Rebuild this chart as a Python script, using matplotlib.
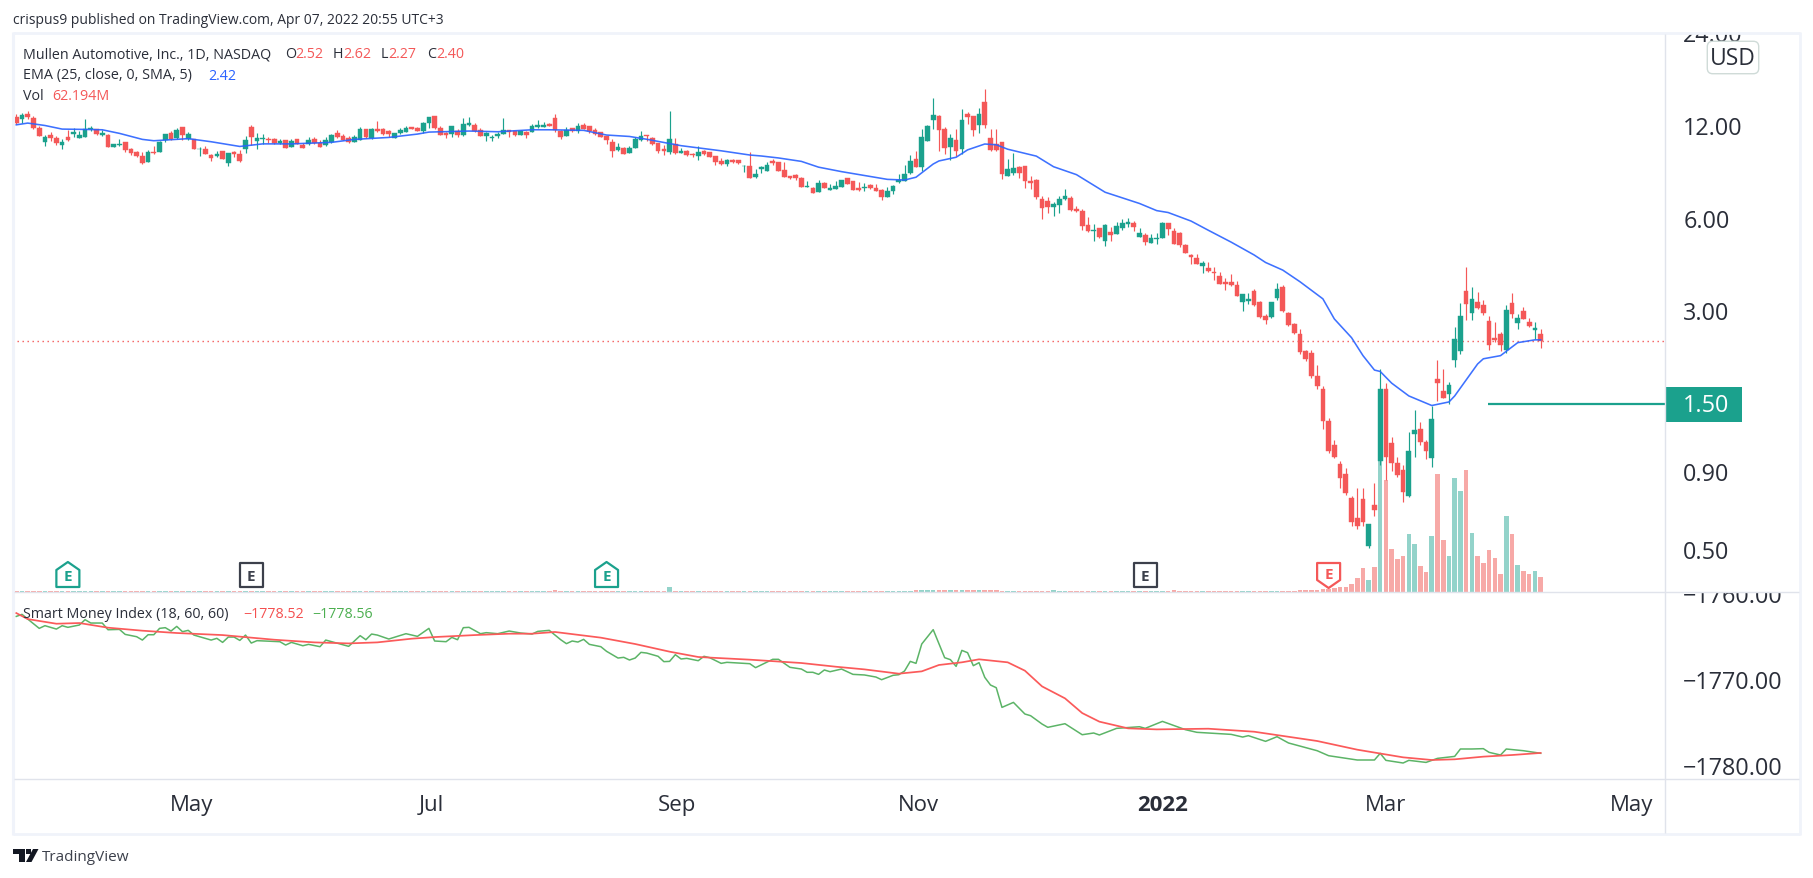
import numpy as np
import matplotlib
matplotlib.use("Agg")
import matplotlib.pyplot as plt
from matplotlib.lines import Line2D
from matplotlib.patches import Polygon, Rectangle, FancyBboxPatch
from matplotlib.transforms import offset_copy

plt.rcParams['font.family'] = ['Open Sans', 'DejaVu Sans']

W, H = 1813, 879

opens = [12.84,12.65,13.13,12.74,11.82,10.65,11.22,10.97,10.41,11.05,
    11.30,10.97,11.05,11.73,11.73,11.22,11.22,10.26,10.41,10.65,
    10.10,9.88,9.59,9.17,9.88,9.88,10.81,11.39,10.97,11.91,
    10.89,10.89,10.08,10.10,9.66,9.59,9.95,9.10,9.88,9.73,
    10.10,11.91,10.72,10.89,10.89,10.89,10.57,10.81,10.26,10.89,
    10.41,10.49,10.89,10.57,10.41,10.65,11.39,11.13,10.97,10.65,
    10.81,11.73,10.97,11.73,11.73,11.56,10.97,11.39,11.47,11.91,
    11.82,11.56,12.27,12.93,11.82,11.39,11.30,11.56,11.22,12.09,
    12.09,11.65,11.13,10.97,11.13,11.30,11.65,11.56,11.22,11.47,
    11.47,11.91,11.91,12.18,12.74,11.56,11.13,11.82,11.56,12.09,
    12.0,11.65,11.47,11.13,10.65,10.03,10.18,9.80,10.18,10.81,
    11.22,10.97,10.57,10.10,9.88,10.49,9.80,9.95,9.73,9.59,
    9.95,9.88,9.59,9.23,9.03,9.30,9.30,8.88,8.90,8.19,
    8.72,8.59,9.23,9.17,8.65,8.25,8.31,8.14,7.62,7.55,
    7.32,7.83,7.44,7.49,7.60,8.14,7.95,7.55,7.55,7.71,
    7.55,7.43,7.06,7.38,7.89,7.95,8.44,9.38,8.83,10.72,
    12.54,12.93,11.74,10.25,10.80,10.10,13.13,12.93,12.08,14.36,
    10.97,10.49,10.65,8.26,8.44,8.83,8.90,7.95,8.01,6.95,
    6.85,6.55,6.64,6.95,7.01,6.45,6.35,5.72,5.47,5.60,
    5.07,5.43,5.35,5.60,5.76,5.80,5.23,5.31,5.00,5.15,
    5.19,5.80,5.47,5.39,4.92,4.57,4.47,4.20,4.14,4.02,
    3.90,3.73,3.73,3.65,3.22,3.24,3.49,3.22,2.90,2.88,
    3.31,3.59,2.96,2.72,2.52,2.22,2.19,1.85,1.67,1.32,
    1.10,0.955,0.885,0.74,0.635,0.735,0.515,0.70,0.98,1.68,
    1.12,0.96,0.91,0.75,1.195,1.24,1.13,1.00,1.80,1.65,
    1.61,2.08,2.22,3.49,2.96,3.22,3.14,2.79,2.45,2.52,
    2.24,3.19,2.75,3.01,2.77,2.60,2.52]

highs = [13.13,13.23,13.43,12.93,12.0,11.22,11.47,11.13,10.89,11.65,
    11.82,11.56,12.65,12.0,11.73,11.65,11.30,10.49,10.89,10.65,
    10.18,9.95,9.88,10.03,10.33,10.72,11.30,11.56,11.82,11.91,
    11.47,10.89,10.26,10.33,9.73,9.95,9.95,9.80,9.95,10.03,
    11.13,12.09,11.39,11.30,11.05,10.97,10.89,10.81,10.89,10.89,
    10.57,11.05,11.05,10.81,11.05,11.30,11.65,11.30,11.13,11.22,
    11.91,11.73,11.82,12.46,11.82,11.65,11.39,11.82,12.0,11.91,
    11.91,12.37,12.84,12.93,12.0,11.47,12.0,11.73,12.74,12.84,
    12.27,11.82,11.47,11.22,11.47,12.74,11.65,11.56,11.65,11.56,
    12.18,12.55,12.37,12.27,13.13,11.65,11.91,11.82,12.27,12.27,
    12.0,11.82,11.47,11.13,10.89,10.57,10.26,10.33,11.05,11.56,
    11.22,11.05,10.57,10.41,13.43,10.97,10.18,10.03,9.80,10.33,
    10.03,9.88,9.59,9.44,9.37,9.37,9.30,8.96,9.88,8.72,
    8.90,9.17,9.37,9.17,9.17,8.25,8.37,8.20,7.95,7.60,
    8.01,7.89,7.77,7.95,8.01,8.14,7.95,7.89,7.83,7.77,
    7.77,7.49,7.60,7.71,8.38,8.97,9.66,9.95,11.74,12.08,
    14.85,13.03,11.92,11.30,11.74,13.63,13.35,12.93,13.75,15.83,
    11.74,11.74,10.65,9.38,9.81,8.90,8.90,8.26,8.08,7.10,
    7.06,6.79,7.10,7.49,7.10,6.59,6.45,6.08,5.76,5.60,
    5.76,5.64,5.84,5.98,6.02,5.88,5.60,5.39,5.35,5.39,
    5.84,5.80,5.60,5.43,4.96,4.60,4.60,4.37,4.33,4.17,
    4.02,3.85,3.96,3.76,3.41,3.44,3.54,3.24,2.94,3.22,
    3.71,3.65,2.98,2.75,2.62,2.24,2.24,2.00,1.71,1.35,
    1.14,0.98,0.93,0.75,0.80,0.80,0.61,0.83,1.94,1.75,
    1.17,1.01,0.945,1.21,1.43,1.31,1.14,1.48,2.08,1.94,
    1.76,2.66,3.19,4.17,3.59,3.46,3.27,2.89,2.77,2.56,
    3.14,3.44,2.94,3.09,2.85,2.77,2.62]

lows = [12.18,12.27,12.68,11.73,11.13,10.33,10.72,10.41,10.10,10.72,
    11.05,10.97,11.05,11.56,11.22,11.13,10.26,10.26,10.33,9.88,
    9.66,9.52,9.03,9.17,9.73,9.88,10.65,10.81,10.89,10.81,
    10.81,10.10,9.59,9.73,9.23,9.52,9.37,8.90,9.52,9.17,
    9.80,10.41,10.10,10.49,10.57,10.49,10.49,10.18,10.26,10.49,
    10.18,10.41,10.49,10.26,10.33,10.57,10.97,10.81,10.57,10.65,
    10.81,10.97,10.89,11.47,11.22,11.05,10.97,11.30,11.47,11.73,
    11.56,11.39,11.82,11.73,11.22,10.97,11.05,11.05,11.13,12.0,
    11.47,11.13,10.72,10.72,10.97,11.30,11.05,11.13,11.22,10.97,
    11.47,11.82,11.91,12.0,11.47,10.89,11.13,11.47,11.39,11.73,
    11.39,11.22,11.05,10.49,9.52,9.95,9.73,9.80,10.18,10.72,
    10.72,10.41,9.80,9.66,9.73,9.73,9.80,9.59,9.52,9.30,
    9.66,9.52,8.96,8.96,8.90,9.10,9.03,8.51,8.13,8.13,
    8.46,8.59,8.96,8.59,8.19,8.07,8.02,7.60,7.60,7.27,
    7.32,7.55,7.44,7.49,7.60,7.77,7.43,7.38,7.38,7.49,
    7.38,6.90,7.06,7.21,7.83,7.95,8.38,8.83,8.56,10.72,
    11.74,9.95,9.73,9.30,9.58,9.73,12.18,11.13,11.38,11.85,
    9.95,9.95,8.08,8.26,8.32,8.14,7.55,7.49,6.95,5.98,
    6.26,6.12,6.26,6.90,6.35,6.30,5.52,5.43,5.07,5.19,
    4.89,5.07,5.35,5.52,5.64,5.47,5.23,4.92,5.00,4.96,
    5.19,5.31,4.96,4.85,4.63,4.27,4.27,3.99,4.02,3.79,
    3.68,3.51,3.62,3.36,3.01,3.17,3.12,2.85,2.72,2.85,
    3.27,2.98,2.68,2.52,2.18,2.07,1.82,1.68,1.24,1.04,
    1.00,0.80,0.76,0.60,0.585,0.60,0.51,0.645,0.945,0.85,
    0.905,0.865,0.72,0.745,1.01,1.10,0.99,0.935,1.53,1.56,
    1.50,1.97,2.18,2.81,2.81,3.05,2.92,2.24,2.38,2.22,
    2.19,2.85,2.62,2.83,2.66,2.43,2.27]

closes = [12.27,13.03,12.87,11.82,11.13,11.05,10.97,10.57,10.65,10.81,
    11.47,11.22,11.73,11.82,11.30,11.39,10.26,10.49,10.49,10.03,
    9.80,9.59,9.10,9.88,9.80,10.65,11.30,10.89,11.65,11.22,
    11.30,10.10,10.10,9.73,9.44,9.73,9.37,9.80,9.73,9.23,
    10.81,11.05,10.97,10.97,10.81,10.57,10.72,10.18,10.72,10.49,
    10.18,10.81,10.57,10.26,10.81,11.22,11.05,10.81,10.65,11.05,
    11.73,11.05,11.73,11.56,11.30,11.30,11.39,11.65,11.82,11.73,
    11.56,12.27,12.84,11.82,11.22,11.22,12.0,11.22,12.18,12.27,
    11.56,11.13,11.39,11.05,11.30,11.65,11.47,11.22,11.56,11.22,
    12.0,12.09,12.09,12.0,11.65,11.05,11.65,11.56,12.0,11.73,
    11.56,11.30,11.05,10.81,9.95,10.26,9.73,10.18,10.89,11.13,
    11.13,10.49,9.95,9.95,10.89,9.80,9.95,9.66,9.66,9.88,
    9.73,9.52,9.17,9.03,9.30,9.17,9.10,8.90,8.13,8.37,
    8.83,8.96,9.10,8.59,8.19,8.13,8.13,7.60,7.65,7.27,
    7.83,7.55,7.55,7.65,8.01,7.77,7.43,7.43,7.60,7.55,
    7.38,7.06,7.38,7.65,8.01,8.38,9.24,8.83,11.05,12.0,
    13.03,11.65,10.17,10.97,9.95,12.54,12.83,11.65,13.13,12.08,
    10.02,10.02,8.38,8.70,8.77,8.44,7.95,7.83,7.06,6.50,
    6.55,6.69,6.95,7.10,6.40,6.35,5.68,5.47,5.52,5.23,
    5.72,5.31,5.68,5.80,5.84,5.64,5.39,5.04,5.19,5.19,
    5.80,5.56,4.96,4.92,4.63,4.50,4.27,4.30,4.05,3.99,
    3.68,3.68,3.65,3.36,3.41,3.29,3.15,2.88,2.81,3.22,
    3.54,3.01,2.70,2.54,2.21,2.10,1.85,1.71,1.32,1.05,
    1.01,0.86,0.77,0.62,0.60,0.62,0.61,0.675,1.67,1.01,
    0.96,0.88,0.775,1.05,1.23,1.13,1.05,1.34,1.75,1.57,
    1.73,2.43,2.89,3.17,3.29,3.07,2.96,2.33,2.41,2.33,
    3.03,2.94,2.85,2.83,2.69,2.64,2.40]

# volume in millions, the first 207 sessions are almost flat
vol_early = [4.0]*94 + [8.0] + [4.0]*19 + [20.0] + [4.0]*42 + [8.0]*15 + [4.0]*9 + [8.0] + [4.0]*20 + [8.0] + [4.0]*4
vol_late = [5.4]*17 + [9.5]*4 + [13.5,12,15,22,22,34,58,99,50,103,635,456,176,135,147,237,196,107,82,228,
    480,212,147,464,411,496,241,147,119,172,139,74,310,237,111,87,74,87,62.194]
volumes = vol_early + vol_late

ema_idx = [0,2,5,8,12,15,18,22,24,30,34,39,43,48,55,59,65,70,72,79,84,90,93,99,103,107,110,116,123,128,130,133,137,
    140,144,152,155,157,160,161,164,166,169,171,173,178,181,185,190,196,199,201,205,208,212,216,218,221,224,228,
    230,233,235,237,238,240,243,247,250,251,255,256,259,262,265,266]
ema_val = [12.11,12.27,12.05,11.73,11.70,11.67,11.36,10.86,10.75,10.92,10.67,10.30,10.50,10.50,10.62,10.86,11.02,11.30,11.47,
    11.56,11.50,11.67,11.67,11.62,11.22,11.10,10.87,10.36,9.97,9.66,9.59,9.45,9.21,
    8.82,8.53,8.05,8.01,8.18,9.03,9.24,9.50,10.04,10.49,10.43,10.09,9.58,8.85,8.34,7.31,6.72,6.37,6.28,5.89,5.50,5.03,4.57,
    4.32,4.08,3.74,3.29,2.83,2.46,2.15,1.93,1.91,1.75,1.59,1.48,1.52,1.59,2.02,2.10,2.15,2.37,2.42,2.42]

smi_idx = [0,1,2,4,5,7,8,9,11,12,13,15,16,18,19,21,22,23,24,25,26,27,28,29,30,31,34,35,36,37,38,39,40,41,42,46,47,48,50,51,53,54,58,
    60,61,62,63,65,68,70,72,73,75,76,77,78,79,81,82,84,86,88,90,91,93,95,96,97,98,99,100,102,103,105,106,107,108,109,110,112,113,114,115,
    116,117,119,120,121,123,124,128,129,132,133,135,137,138,139,140,141,142,144,146,148,150,151,153,154,155,156,157,158,160,162,163,164,
    165,166,167,168,169,170,171,172,174,176,177,179,180,183,186,188,189,192,196,197,200,204,206,212,214,215,218,220,222,227,229,234,237,
    238,239,242,243,246,248,251,252,254,256,257,259,260,263,266]
smi_val = [-1762.64,-1762.40,-1762.95,-1764.03,-1763.72,-1764.11,-1763.72,-1763.91,-1763.64,-1763.02,-1763.41,-1763.41,-1764.19,-1764.15,
    -1764.73,-1765.00,-1765.39,-1764.77,-1764.77,-1764.03,-1763.95,-1764.34,-1763.80,-1764.42,-1764.26,-1764.81,-1765.39,-1765.19,-1765.66,
    -1765.04,-1765.04,-1765.43,-1764.81,-1765.74,-1765.46,-1765.58,-1765.97,-1765.66,-1766.05,-1765.89,-1766.16,-1765.39,-1766.12,
    -1764.88,-1765.35,-1764.69,-1764.81,-1765.27,-1764.65,-1764.96,-1764.03,-1765.50,-1765.58,-1765.08,-1765.35,-1763.95,-1763.91,-1764.65,
    -1764.53,-1764.65,-1764.34,-1764.57,-1764.69,-1764.38,-1764.26,-1765.35,-1765.81,-1765.50,-1765.62,-1765.31,-1765.89,-1766.16,-1766.70,
    -1767.48,-1767.40,-1767.71,-1767.48,-1766.82,-1766.90,-1767.28,-1767.90,-1767.87,-1767.09,-1767.59,-1767.52,-1767.79,-1767.28,-1767.44,
    -1768.10,-1767.98,-1768.14,-1768.60,-1767.63,-1767.63,-1768.56,-1768.76,-1769.14,-1769.14,-1769.38,-1768.87,-1769.07,-1768.76,-1769.38,
    -1769.45,-1769.69,-1770.00,-1769.49,-1769.42,-1768.99,-1767.87,-1768.10,-1765.85,-1764.18,-1767.44,-1767.67,-1768.45,-1766.59,-1766.86,
    -1768.37,-1768.02,-1769.73,-1770.62,-1770.93,-1773.22,-1772.64,-1773.99,-1774.19,-1775.16,-1775.54,-1775.12,-1776.40,-1776.20,-1776.43,
    -1775.66,-1775.47,-1775.66,-1774.85,-1775.81,-1776.12,-1776.36,-1776.67,-1776.51,-1777.17,-1776.63,-1777.36,-1778.26,-1778.84,-1779.34,
    -1779.34,-1778.57,-1779.38,-1779.69,-1779.38,-1779.62,-1779.15,-1778.92,-1778.06,-1778.06,-1778.02,-1778.45,-1778.76,-1778.06,-1778.26,-1778.56]

signal_idx = [0,2,7,11,16,22,28,36,45,52,58,63,69,73,80,86,90,94,102,108,114,119,128,137,143,148,154,158,161,165,168,173,176,179,183,186,189,
    194,199,208,216,227,234,242,247,251,256,261,266]
signal_val = [-1762.25,-1762.95,-1763.49,-1763.41,-1763.95,-1764.30,-1764.57,-1764.81,-1765.35,-1765.66,-1765.78,-1765.66,-1765.23,-1765.04,
    -1764.81,-1764.65,-1764.65,-1764.45,-1765.11,-1765.85,-1766.74,-1767.36,-1767.67,-1768.06,-1768.49,-1768.80,-1769.30,-1769.03,-1768.29,
    -1767.98,-1767.63,-1767.98,-1768.95,-1770.78,-1772.17,-1773.88,-1774.88,-1775.66,-1775.78,-1775.70,-1776.05,-1777.13,-1778.14,-1779.03,
    -1779.34,-1779.26,-1778.95,-1778.76,-1778.52]

price_ticks = [24.0, 12.0, 6.0, 3.0, 0.9, 0.5]
smi_ticks = [-1760.0, -1770.0, -1780.0]
month_pos = [30.66, 72.5, 115.3, 157.4, 200.1, 239.0, 281.8]
month_labels = ["May", "Jul", "Sep", "Nov", "2022", "Mar", "May"]
earnings_idx = [9, 41, 103, 197, 229]
earnings_kind = ["up", "flat", "up", "flat", "down"]
last_close = 2.40
hline_price = 1.50

RED = '#f45858'
GREEN = '#1ba18d'
TEXT = '#2a2e39'
GRID = '#e0e3eb'
FRAME = '#f0f3fa'


def fx(x):
    return x / W

def fy(y):
    return 1 - y / H

def pane(x0, y0, x1, y1, **kw):
    # axes placed by pixel box, y measured from the top of the image
    return fig.add_axes([fx(x0), fy(y1), (x1 - x0) / W, (y1 - y0) / H], **kw)

def label(x, y, s, color=TEXT, size=10, **kw):
    fig.text(fx(x), fy(y), s, color=color, fontsize=size, va='center', **kw)

def fig_line(x0, y0, x1, y1, color, lw):
    fig.add_artist(Line2D([fx(x0), fx(x1)], [fy(y0), fy(y1)], color=color, lw=lw, transform=fig.transFigure, solid_capstyle='butt'))

def earnings_mark(x, kind):
    hw = 11.5
    top, bot = 564, 588
    colors = {"up": GREEN, "flat": '#3c404b', "down": RED}
    c = colors[kind]
    if kind == "up":
        pts = [(x-hw, bot), (x+hw, bot), (x+hw, top+7), (x, top-1), (x-hw, top+7)]
    elif kind == "down":
        pts = [(x-hw, top), (x+hw, top), (x+hw, bot-7), (x, bot+1), (x-hw, bot-7)]
    else:
        pts = [(x-hw, top), (x+hw, top), (x+hw, bot), (x-hw, bot)]
    pts = [(fx(a), fy(b)) for a, b in pts]
    fig.add_artist(Polygon(pts, closed=True, facecolor='white', edgecolor=c, lw=1.6, transform=fig.transFigure, joinstyle='round'))
    yt = top + 13 if kind != "down" else top + 11
    fig.text(fx(x), fy(yt), "E", color=c, fontsize=11, fontweight='bold', ha='center', va='center')


fig = plt.figure(figsize=(W / 100, H / 100), dpi=100, facecolor='white')

opens = np.array(opens)
highs = np.array(highs)
lows = np.array(lows)
closes = np.array(closes)
volumes = np.array(volumes)
idx = np.arange(len(opens))
up = closes >= opens
colors = np.where(up, GREEN, RED)
xlim = (-0.75, 287.7)
price_lim = (0.3662, 24.09)

# volume goes behind the candles
ax_vol = pane(12, 34, 1665, 593)
ax_vol.bar(idx, volumes, width=0.8, color=np.where(up, '#93d3ca', '#f7a9a7'), linewidth=0)
ax_vol.set_xlim(xlim)
ax_vol.set_ylim(0, 2267)
ax_vol.axis('off')

ax = pane(12, 34, 1665, 593)
ax.patch.set_alpha(0)
ax.set_yscale('log', base=2)
ax.set_xlim(xlim)
ax.set_ylim(price_lim)
ax.axhline(last_close, color=RED, lw=1, ls=(0, (1, 2.6)), zorder=1)
ax.vlines(idx, lows, highs, colors=colors, lw=0.85, zorder=3)
body_lo = np.minimum(opens, closes)
body_hi = np.maximum(opens, closes)
ax.bar(idx, body_hi - body_lo, bottom=body_lo, width=0.82, color=colors, edgecolor=colors, linewidth=0.3, zorder=4)
ax.plot(ema_idx, ema_val, color='#2962ff', lw=1.15, alpha=0.9, zorder=5)
ax.hlines(hline_price, 256.8, xlim[1], color=GREEN, lw=1.6, zorder=5)
ax.axis('off')

# smart money pane
ax_smi = pane(12, 593, 1665, 780)
ax_smi.plot(smi_idx, smi_val, color='#5cb467', lw=1.1)
ax_smi.plot(signal_idx, signal_val, color='#fb5a5a', lw=1.25)
ax_smi.set_xlim(xlim)
ax_smi.set_ylim(-1781.55, -1759.8)
ax_smi.axis('off')

# time scale
ax_time = pane(12, 780, 1665, 835)
ax_time.set_xlim(xlim)
ax_time.set_ylim(0, 1)
ax_time.set_yticks([])
ax_time.set_xticks(month_pos)
ax_time.set_xticklabels(month_labels, fontsize=16, color=TEXT)
ax_time.get_xticklabels()[4].set_fontweight('bold')
ax_time.tick_params(axis='x', length=0, pad=-29)
for s in ax_time.spines.values():
    s.set_visible(False)

# right price scales, text is clipped by the pane like on the site
ax_ps = pane(1665, 34, 1800, 593)
ax_ps.set_yscale('log', base=2)
ax_ps.set_ylim(price_lim)
ax_ps.axis('off')
ps_trans = offset_copy(ax_ps.get_yaxis_transform(), fig=fig, y=-2, units='dots')
for t in price_ticks:
    ax_ps.text(0.135, t, f"{t:.2f}", color=TEXT, fontsize=16.8, va='center', clip_on=True, transform=ps_trans)

ax_ss = pane(1665, 593, 1800, 780)
ax_ss.set_ylim(-1781.55, -1759.8)
ax_ss.axis('off')
ss_trans = offset_copy(ax_ss.get_yaxis_transform(), fig=fig, y=-2, units='dots')
for t in smi_ticks:
    ax_ss.text(0.135, t, f"\u2212{abs(t):.2f}", color=TEXT, fontsize=16.8, va='center', clip_on=True, transform=ss_trans)

# 1.50 tag
fig.add_artist(Rectangle((fx(1665), fy(423)), 77 / W, 35 / H, facecolor=GREEN, edgecolor='none', transform=fig.transFigure))
label(1683, H - ax.transData.transform((0, hline_price))[1] + 1, "1.50", color='white', size=16.8)

# USD box
fig.add_artist(FancyBboxPatch((fx(1710), fy(72)), 46 / W, 27 / H, boxstyle="round,pad=0.0015,rounding_size=0.003",
    facecolor='white', edgecolor='#cfdbd8', lw=1, transform=fig.transFigure, mutation_aspect=W / H))
label(1733, 59, "USD", size=16.5, ha='center')

# frame and pane separators
fig_line(13, 34, 1800, 34, FRAME, 2)
fig_line(13, 33, 13, 836, FRAME, 2.2)
fig_line(1800, 33, 1800, 836, FRAME, 2)
fig_line(13, 835, 1800, 835, FRAME, 2)
fig_line(14, 593, 1799, 593, GRID, 1)
fig_line(14, 780, 1799, 780, GRID, 1)
fig_line(1665, 35, 1665, 834, GRID, 1)

# earnings flags
for i, kind in zip(earnings_idx, earnings_kind):
    earnings_mark(ax_vol.transData.transform((i, 1))[0], kind)

# header and legends
label(13, 20.5, "crispus9 published on TradingView.com, Apr 07, 2022 20:55 UTC+3", size=10)
label(23, 55, "Mullen Automotive, Inc., 1D, NASDAQ", size=10.25)
for x, s, c in [(285, "O", TEXT), (295, "2.52", RED), (333, "H", TEXT), (343, "2.62", RED),
                (381, "L", TEXT), (388, "2.27", RED), (427, "C", TEXT), (436, "2.40", RED)]:
    label(x, 55, s, color=c, size=10.25)
label(23, 76, "EMA (25, close, 0, SMA, 5)", size=10.4)
label(208, 76, "2.42", color='#2962ff', size=10.25)
label(23, 97, "Vol", size=10.25)
label(52, 97, "62.194M", color=RED, size=10.25)
label(23, 615, "Smart Money Index (18, 60, 60)", size=10.25)
label(243, 615, "\u22121778.52", color='#f45050', size=10.25)
label(312, 615, "\u22121778.56", color='#4caf50', size=10.25)

# footer logo
for pts in ([(13, 850), (24.5, 850), (24.5, 863), (19, 863), (19, 855), (13, 855)],
            [(33, 850), (38.5, 850), (31.5, 863), (26, 863)]):
    fig.add_artist(Polygon([(fx(a), fy(b)) for a, b in pts], closed=True, facecolor='#131722', edgecolor='none', transform=fig.transFigure))
fig.add_artist(Rectangle((fx(26), fy(855)), 5 / W, 5 / H, facecolor='#131722', edgecolor='none', transform=fig.transFigure))
label(42, 858, "TradingView", color='#3c404b', size=11)

fig.savefig("out.png", dpi=100)
